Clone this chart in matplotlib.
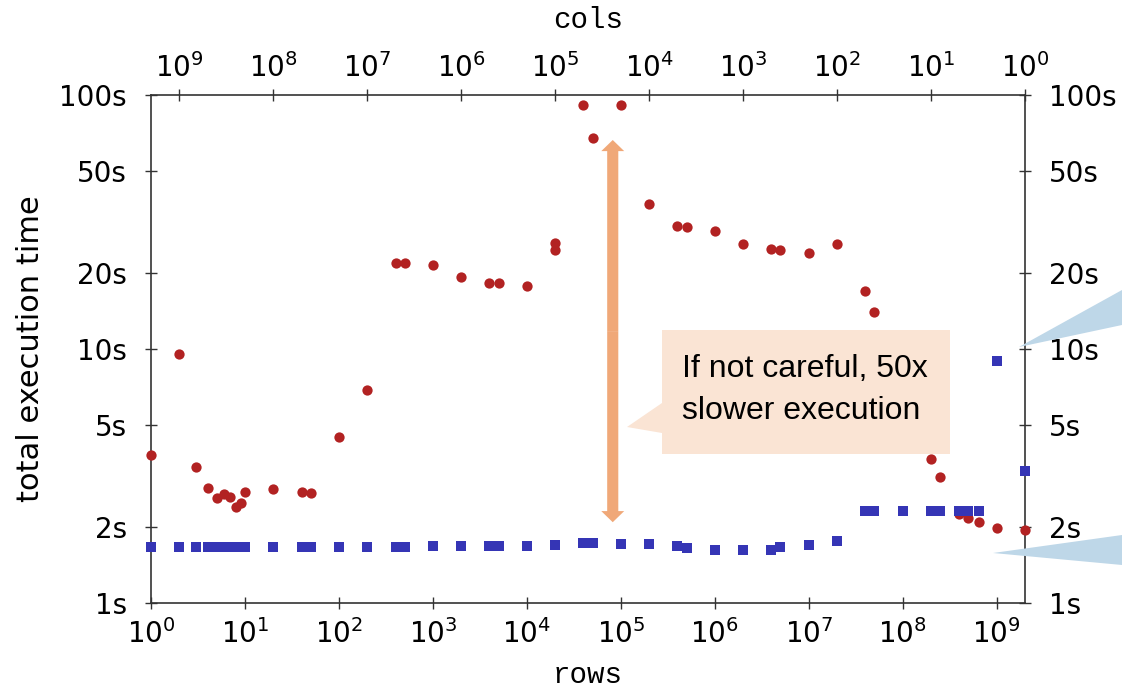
import matplotlib
matplotlib.use("Agg")
import matplotlib.pyplot as plt
from matplotlib.patches import Polygon, FancyArrowPatch

W, H = 1122, 688
XMAX = 2e9

# red circles: careless configuration
rows_red = [1, 2, 3, 4, 5, 6, 7, 8, 9, 10, 20, 40, 50, 100, 200, 400, 500,
            1000, 2000, 4000, 5000, 1e4, 2e4, 2e4, 4e4, 5e4, 1e5, 2e5, 4e5,
            5e5, 1e6, 2e6, 4e6, 5e6, 1e7, 2e7, 4e7, 5e7, 2e8, 2.5e8, 4e8,
            5e8, 6.5e8, 1e9, 2e9]
time_red = [3.83, 9.55, 3.43, 2.84, 2.59, 2.69, 2.62, 2.39, 2.48, 2.74, 2.81,
            2.74, 2.71, 4.5, 6.9, 21.8, 21.8, 21.4, 19.2, 18.2, 18.2, 17.7,
            26.1, 24.5, 91.4, 67.7, 91.4, 37.2, 30.5, 30.2, 29.1, 25.9, 24.8,
            24.6, 23.9, 25.9, 16.9, 14.0, 3.69, 3.13, 2.24, 2.16, 2.08, 1.97,
            1.94]

# blue squares: careful configuration
rows_blue = [1, 2, 3, 4, 5, 6, 7, 8, 9, 10, 20, 40, 50, 100, 200, 400, 500,
             1000, 2000, 4000, 5000, 1e4, 2e4, 4e4, 5e4, 1e5, 2e5, 4e5, 5e5,
             1e6, 2e6, 4e6, 5e6, 1e7, 2e7, 4e7, 5e7, 1e8, 2e8, 2.5e8, 4e8,
             5e8, 6.5e8, 1e9, 2e9]
time_blue = [1.66, 1.66, 1.66, 1.66, 1.66, 1.66, 1.66, 1.66, 1.66, 1.66,
             1.66, 1.66, 1.66, 1.66, 1.66, 1.66, 1.66, 1.67, 1.67, 1.67, 1.67,
             1.67, 1.69, 1.72, 1.72, 1.71, 1.70, 1.68, 1.65, 1.62, 1.62, 1.62,
             1.66, 1.69, 1.75, 2.30, 2.30, 2.30, 2.30, 2.30, 2.30, 2.30, 2.30,
             8.97, 3.31]

ytick_vals = [1, 2, 5, 10, 20, 50, 100]
ytick_labels = ["1s", "2s", "5s", "10s", "20s", "50s", "100s"]
xtick_vals = [1e0, 1e1, 1e2, 1e3, 1e4, 1e5, 1e6, 1e7, 1e8, 1e9]

arrow_x = 8.2e4
arrow_top, arrow_bot = 66.5, 2.08

note = "If not careful, 50x\nslower execution"


def px(x, y):
    return (x / W, 1 - y / H)


fig = plt.figure(figsize=(W / 100, H / 100), dpi=100)
ax = fig.add_axes([151 / W, 1 - 603 / H, (1025 - 151) / W, (603 - 95) / H])

ax.plot(rows_red, time_red, 'o', color='#b22222', ms=7.4, mew=0,
        clip_on=False, zorder=3)
ax.plot(rows_blue, time_blue, 's', color='#3535b5', ms=7.6, mew=0,
        clip_on=False, zorder=4)

ax.set_xscale('log')
ax.set_yscale('log')
ax.set_xlim(1, XMAX)
ax.set_ylim(1, 100)
ax.set_xticks(xtick_vals)
ax.set_yticks(ytick_vals)
ax.set_yticklabels(ytick_labels)
ax.minorticks_off()
ax.tick_params(axis='both', which='major', direction='inout', length=9,
               width=1, color='#333333', labelsize=20)
ax.tick_params(axis='y', right=True, labelright=True, pad=13)
ax.tick_params(axis='x', pad=7)
for s in ax.spines.values():
    s.set_color('#333333')
    s.set_linewidth(1.2)

ax.set_xlabel('rows', family='Liberation Mono', fontsize=21, labelpad=9)
ax.set_ylabel('total execution time', fontsize=22, labelpad=10)

ax2 = ax.twiny()
ax2.set_xscale('log')
ax2.set_xlim(XMAX / 1, XMAX / XMAX)
ax2.set_xticks(xtick_vals)
ax2.minorticks_off()
ax2.tick_params(axis='x', direction='inout', length=9, width=1,
                color='#333333', labelsize=20, pad=4)
for s in ax2.spines.values():
    s.set_visible(False)
ax2.set_xlabel('cols', family='Liberation Mono', fontsize=21, labelpad=18)

# double-headed orange arrow
mid = (arrow_top * arrow_bot) ** 0.5
for end in (arrow_top, arrow_bot):
    ax.add_patch(FancyArrowPatch(
        (arrow_x, mid), (arrow_x, end),
        arrowstyle='simple,head_length=0.8,head_width=1.65,tail_width=0.8',
        mutation_scale=10, color='#f0a878', lw=0, shrinkA=0, shrinkB=0,
        zorder=5))

# callout box
box = [px(662, 330), px(950, 330), px(950, 454), px(662, 454),
       px(662, 433), px(627, 427), px(662, 403)]
fig.add_artist(Polygon(box, closed=True, transform=fig.transFigure,
                       facecolor='#fae4d4', edgecolor='none', zorder=6))
fig.text(682 / W, 1 - 390 / H, note, fontsize=23, family='Liberation Sans',
         va='center', ha='left', linespacing=1.55, zorder=7)

# light blue callout pointers coming from the right
fig.add_artist(Polygon([px(1019, 347), px(1122, 290), px(1122, 325)],
                       closed=True, transform=fig.transFigure,
                       facecolor='#bed7e8', edgecolor='none', zorder=6))
fig.add_artist(Polygon([px(993, 553), px(1122, 535), px(1122, 565)],
                       closed=True, transform=fig.transFigure,
                       facecolor='#bed7e8', edgecolor='none', zorder=6))

fig.savefig('out.png', dpi=100, facecolor='white')
